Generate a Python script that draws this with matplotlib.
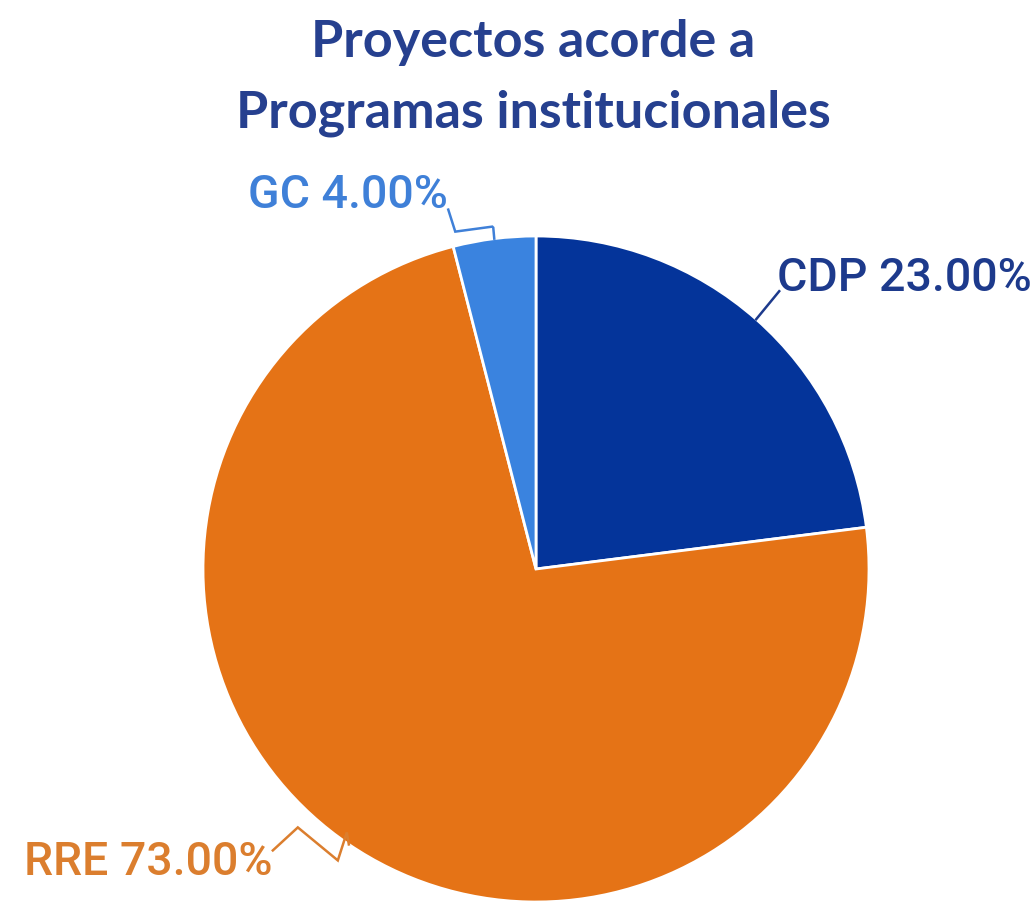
import matplotlib
matplotlib.use("Agg")
import matplotlib.pyplot as plt
import numpy as np

categories = ["CDP", "RRE", "GC"]
values = [23.0, 73.0, 4.0]
colors = ["#04349A", "#E57316", "#3A83DF"]
label_colors = ["#1D3A8C", "#DB7E2E", "#3F80D8"]
title_lines = ["Proyectos acorde a", "Programas institucionales"]

W, H = 1035, 901
fig = plt.figure(figsize=(W / 100, H / 100), dpi=100)
fig.patch.set_facecolor("white")

# pixel geometry of the pie
cx, cy, R = 536, 569, 333
ax = fig.add_axes([0, 0, 1, 1])

wedges, _ = ax.pie(values, colors=colors, startangle=90, counterclock=False,
                   radius=1, center=(0, 0),
                   wedgeprops=dict(edgecolor="white", linewidth=2))
ax.set_aspect("auto")
ax.set_xlim(-cx / R, (W - cx) / R)
ax.set_ylim(-(H - cy) / R, cy / R)
ax.axis("off")

# leader-line shapes (offsets in pixels from the wedge's outer midpoint; y up)
leaders = {
    "CDP": [(0, 0), (23, 28)],
    "RRE": [(0, 0), (-2, 12), (-11, -16), (-51, 17), (-76, -6)],
    "GC": [(0, 0), (-1, 11), (-2, 12), (-39, 7), (-46, 29)],
}
text_offsets = {
    "CDP": (21, 41, "left"),
    "RRE": (-76, -18, "right"),
    "GC": (-46, 44, "right"),
}

for w, cat, val, lc in zip(wedges, categories, values, label_colors):
    mid = np.deg2rad((w.theta1 + w.theta2) / 2)
    ex, ey = np.cos(mid), np.sin(mid)
    pts = np.array(leaders[cat], dtype=float) / R
    ax.plot(ex + pts[:, 0], ey + pts[:, 1], color=lc, lw=1.8,
            solid_joinstyle="miter", clip_on=False)
    dx, dy, ha = text_offsets[cat]
    ax.text(ex + dx / R, ey + dy / R, f"{cat} {val:.2f}%", color=lc,
            fontsize=33.5, family="Roboto", fontweight="medium",
            ha=ha, va="center")

fig.text(0.515, 1 - 42 / H, title_lines[0], ha="center", va="center",
         fontsize=37.5, fontweight="bold", family="Lato", color="#26408F")
fig.text(0.515, 1 - 113 / H, title_lines[1], ha="center", va="center",
         fontsize=37.5, fontweight="bold", family="Lato", color="#26408F")

fig.savefig("out.png", dpi=100, facecolor="white")
